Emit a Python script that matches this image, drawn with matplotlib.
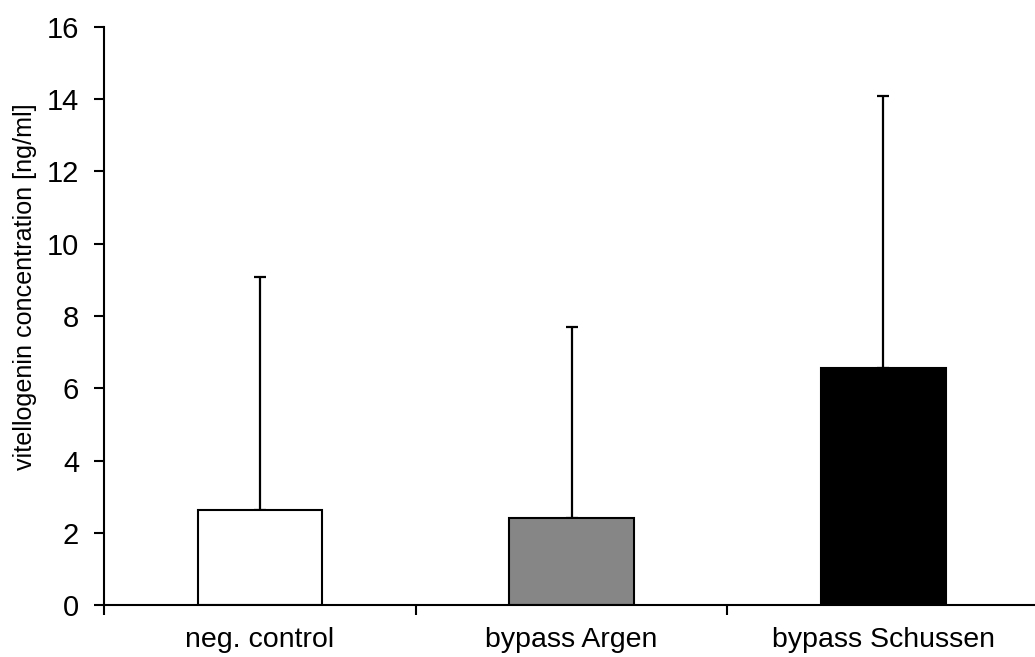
import matplotlib
matplotlib.use("Agg")
import matplotlib.pyplot as plt
import numpy as np

plt.rcParams["font.family"] = ["Liberation Sans", "DejaVu Sans"]

categories = ["neg. control", "bypass Argen", "bypass Schussen"]
means = [2.63, 2.40, 6.55]
errors_upper = [6.45, 5.30, 7.55]  # SD, drawn upward only
colors = ["white", "#868686", "black"]
yticks = [0, 2, 4, 6, 8, 10, 12, 14, 16]

fig = plt.figure(figsize=(10.35, 6.57), dpi=100)
ax = fig.add_axes([0.1005, 0.079, 0.9035, 0.88])

x = np.arange(len(categories))
ax.bar(x, means, width=0.4, color=colors, edgecolor="black", linewidth=1.5, zorder=2)
ax.errorbar(x, means, yerr=[np.zeros(len(means)), errors_upper], fmt="none",
            ecolor="black", elinewidth=1.6, capsize=4, capthick=1.6, zorder=1)

ax.set_xlim(-0.5, 2.5)
ax.set_ylim(0, 16)
ax.set_yticks(yticks)
ax.set_xticks(np.arange(-0.5, 2.5, 1.0))
ax.set_xticklabels([])
ax.set_xticks(x, minor=True)
ax.set_xticklabels(categories, minor=True, fontsize=20.5)
ax.tick_params(axis="x", which="minor", length=0, pad=16)
ax.tick_params(axis="x", which="major", length=7, width=1.5, direction="out")
ax.tick_params(axis="y", length=7, width=1.5, direction="out", labelsize=21, pad=11)

for s in ("top", "right"):
    ax.spines[s].set_visible(False)
for s in ("left", "bottom"):
    ax.spines[s].set_linewidth(1.5)

ax.set_ylabel("vitellogenin concentration [ng/ml]", fontsize=18.1)
ax.yaxis.set_label_coords(-0.072, 0.551)

fig.savefig("out.png", dpi=100, facecolor="white")
